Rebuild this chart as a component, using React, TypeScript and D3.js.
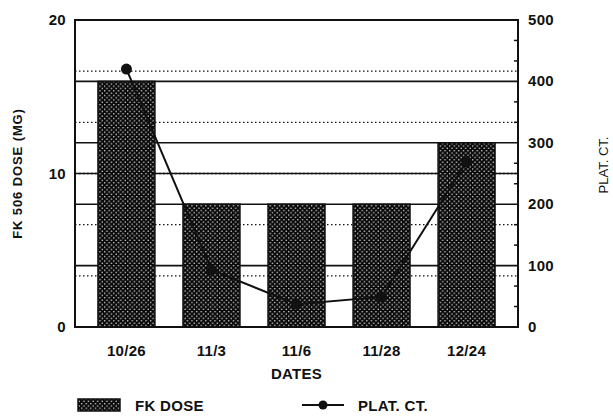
import React from "react";
import * as d3 from "d3";

const width = 613;
const height = 419;
const margin = { top: 20, right: 95, bottom: 92, left: 75 };

const dates = ["10/26", "11/3", "11/6", "11/28", "12/24"];
const fkDose = [16, 8, 8, 8, 12];
const platCount = [420, 93, 37, 49, 269];
const doseTicks = [0, 10, 20];
const platTicks = [0, 100, 200, 300, 400, 500];
const solidLines = [4, 8, 10, 12, 16];

const font = "'Liberation Sans', Arial, sans-serif";
const ink = "#111";

export default function App() {
  const x = d3
    .scaleBand()
    .domain(dates)
    .range([margin.left, width - margin.right])
    .paddingInner(0.33)
    .paddingOuter(0.27);

  const yDose = d3
    .scaleLinear()
    .domain([0, 20])
    .range([height - margin.bottom, margin.top]);

  const yPlat = d3
    .scaleLinear()
    .domain([0, 500])
    .range([height - margin.bottom, margin.top]);

  const line = d3
    .line<number>()
    .x((d, i) => x(dates[i])! + x.bandwidth() / 2)
    .y((d) => yPlat(d));

  // dotted lines every sixth of the height, minor ticks every third of 100
  const dotted = d3.range(1, 6).map((k) => (20 * k) / 6);
  const minor = d3.range(0, 501, 100 / 3).filter((v) => Math.round(v) % 100 !== 0);

  const left = margin.left;
  const right = width - margin.right;
  const bottom = height - margin.bottom;

  return (
    <svg
      width={width}
      height={height}
      style={{ position: "absolute", left: 0, top: 0, background: "#fff" }}
    >
      <defs>
        <pattern id="dots" width={4.6} height={4.6} patternUnits="userSpaceOnUse">
          <rect width={4.6} height={4.6} fill="#0a0a0a" />
          <circle cx={1.15} cy={1.15} r={0.72} fill="#fff" />
          <circle cx={3.45} cy={3.45} r={0.72} fill="#fff" />
        </pattern>
      </defs>

      {dotted.map((v) => (
        <line
          key={"d" + v}
          x1={left}
          x2={right}
          y1={yDose(v)}
          y2={yDose(v)}
          stroke={ink}
          strokeWidth={1.3}
          strokeDasharray="1.5,2.5"
        />
      ))}
      {solidLines.map((v) => (
        <line
          key={"s" + v}
          x1={left}
          x2={right}
          y1={yDose(v)}
          y2={yDose(v)}
          stroke={ink}
          strokeWidth={1.6}
        />
      ))}

      {fkDose.map((v, i) => (
        <rect
          key={dates[i]}
          x={x(dates[i])}
          y={yDose(v)}
          width={x.bandwidth()}
          height={bottom - yDose(v)}
          fill="url(#dots)"
          stroke={ink}
          strokeWidth={1.5}
        />
      ))}

      <rect
        x={left}
        y={margin.top}
        width={right - left}
        height={bottom - margin.top}
        fill="none"
        stroke={ink}
        strokeWidth={2}
      />

      {minor.map((v) => (
        <line
          key={"m" + v}
          x1={right - 4}
          x2={right}
          y1={yPlat(v)}
          y2={yPlat(v)}
          stroke={ink}
          strokeWidth={1.5}
        />
      ))}

      <path d={line(platCount)!} fill="none" stroke={ink} strokeWidth={2} />
      {platCount.map((v, i) => (
        <circle
          key={"p" + i}
          cx={x(dates[i])! + x.bandwidth() / 2}
          cy={yPlat(v)}
          r={5.5}
          fill={ink}
        />
      ))}

      <g fontFamily={font} fontWeight="bold" fontSize={15} fill={ink} letterSpacing={0.3}>
        {doseTicks.map((t) => (
          <text key={"lt" + t} x={left - 9} y={yDose(t) + 5} textAnchor="end">
            {t}
          </text>
        ))}
        {platTicks.map((t) => (
          <text key={"rt" + t} x={right + 10} y={yPlat(t) + 5}>
            {t}
          </text>
        ))}
        {dates.map((d) => (
          <text
            key={"x" + d}
            x={x(d)! + x.bandwidth() / 2}
            y={bottom + 29}
            textAnchor="middle"
          >
            {d}
          </text>
        ))}
        <text x={(left + right) / 2} y={bottom + 52} textAnchor="middle">
          DATES
        </text>
        <text
          transform={`translate(22, ${(margin.top + bottom) / 2}) rotate(-90)`}
          textAnchor="middle"
          fontSize={13}
          letterSpacing={0.9}
        >
          FK 506 DOSE (MG)
        </text>
      </g>

      <text
        transform={`translate(608, 165) rotate(-90)`}
        textAnchor="middle"
        fontFamily={font}
        fontSize={13}
        fill={ink}
      >
        PLAT. CT.
      </text>

      <g fontFamily={font} fontWeight="bold" fontSize={15} fill={ink} letterSpacing={0.3}>
        <rect x={78} y={399} width={42} height={12} fill="url(#dots)" stroke={ink} strokeWidth={1.5} />
        <text x={135} y={411}>FK DOSE</text>
        <line x1={302} x2={344} y1={405} y2={405} stroke={ink} strokeWidth={2} />
        <circle cx={323} cy={405} r={4.5} fill={ink} />
        <text x={358} y={411}>PLAT. CT.</text>
      </g>
    </svg>
  );
}
